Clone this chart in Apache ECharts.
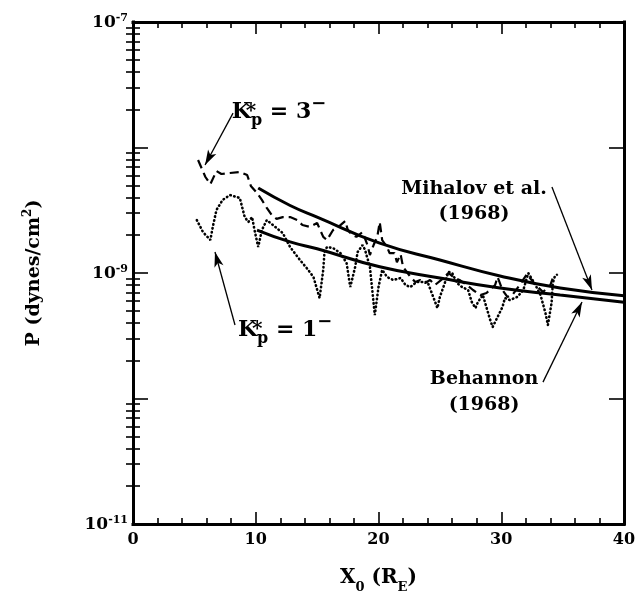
<!DOCTYPE html>
<html>
<head>
<meta charset="utf-8">
<script src="https://cdn.jsdelivr.net/npm/echarts@6/dist/echarts.min.js"></script>
<style>
  html, body { margin: 0; padding: 0; background: #fff; }
  #chart { width: 644px; height: 602px; }
</style>
</head>
<body>
<div id="chart"></div>
<script>
// Lobe pressure P versus downstream distance X0 (Earth radii)

// x-axis ticks and labelled y decades (exponents of 10)
const xTicks = [0, 10, 20, 30, 40];
const yLabelExponents = [-11, -9, -7];

// Kp* = 3- profile, [X0, P]
const kp3Minus = [
  [5.3, 7.95e-9], [5.9, 5.82e-9], [6.3, 5.1e-9], [6.8, 6.5e-9], [7.2, 6.15e-9],
  [7.9, 6.26e-9], [8.7, 6.38e-9], [9.3, 6.04e-9], [9.6, 4.94e-9], [10.1, 4.34e-9],
  [10.5, 3.82e-9], [10.9, 3.3e-9], [11.3, 2.9e-9], [11.7, 2.7e-9], [12.2, 2.79e-9],
  [12.8, 2.79e-9], [13.4, 2.64e-9], [13.8, 2.41e-9], [14.4, 2.33e-9], [15.0, 2.5e-9],
  [15.5, 1.94e-9], [15.8, 1.83e-9], [16.3, 2.2e-9], [16.9, 2.41e-9], [17.3, 2.6e-9],
  [17.5, 2.2e-9], [17.8, 2.04e-9], [18.2, 1.94e-9], [18.7, 2.12e-9], [19.1, 1.67e-9],
  [19.3, 1.39e-9], [19.6, 1.67e-9], [19.9, 1.94e-9], [20.1, 2.55e-9], [20.3, 1.83e-9],
  [20.7, 1.61e-9], [20.9, 1.44e-9], [21.3, 1.44e-9], [21.5, 1.22e-9], [21.8, 1.41e-9],
  [22.0, 1.12e-9], [22.6, 9.29e-10], [23.0, 8.47e-10], [23.4, 8.79e-10], [23.8, 8.32e-10],
  [24.2, 8.79e-10], [24.6, 8.02e-10], [25.3, 9.12e-10], [25.7, 1.0e-9], [26.2, 9.12e-10],
  [26.6, 8.79e-10], [27.2, 8.02e-10], [27.7, 7.32e-10], [28.3, 6.68e-10], [28.8, 6.93e-10],
  [29.5, 8.02e-10], [29.7, 9.29e-10], [30.1, 7.32e-10], [30.5, 6.44e-10], [30.9, 6.68e-10],
  [31.5, 8.02e-10], [32.1, 9.8e-10], [32.6, 8.47e-10], [33.4, 7.06e-10], [34.0, 8.02e-10],
  [34.2, 9.12e-10], [34.6, 9.8e-10]
];

// Kp* = 1- profile, [X0, P]
const kp1Minus = [
  [5.2, 2.64e-9], [5.7, 2.12e-9], [6.3, 1.83e-9], [6.5, 2.33e-9], [6.8, 3.18e-9],
  [7.3, 3.82e-9], [7.9, 4.18e-9], [8.7, 3.96e-9], [9.1, 2.79e-9], [9.4, 2.55e-9],
  [9.7, 2.79e-9], [9.9, 2.2e-9], [10.2, 1.61e-9], [10.5, 2.2e-9], [10.9, 2.64e-9],
  [11.4, 2.41e-9], [12.2, 2.08e-9], [12.8, 1.61e-9], [13.6, 1.27e-9], [14.2, 1.08e-9],
  [14.7, 9.29e-10], [15.2, 6.32e-10], [15.5, 1.06e-9], [15.6, 1.47e-9], [15.8, 1.61e-9],
  [16.3, 1.58e-9], [16.9, 1.44e-9], [17.4, 1.2e-9], [17.7, 7.73e-10], [18.1, 1.12e-9],
  [18.3, 1.47e-9], [18.7, 1.67e-9], [18.9, 1.53e-9], [19.3, 1.12e-9], [19.7, 4.62e-10],
  [20.0, 7.73e-10], [20.3, 1.06e-9], [20.7, 9.29e-10], [21.2, 8.79e-10], [21.8, 9.12e-10],
  [22.2, 8.02e-10], [22.6, 7.73e-10], [23.1, 8.47e-10], [24.0, 8.47e-10], [24.4, 6.68e-10],
  [24.8, 5.26e-10], [25.0, 6.44e-10], [25.4, 8.32e-10], [25.7, 1.02e-9], [26.0, 1.0e-9],
  [26.4, 8.32e-10], [26.8, 7.73e-10], [27.3, 7.32e-10], [27.6, 5.87e-10], [27.9, 5.26e-10],
  [28.1, 5.87e-10], [28.5, 6.68e-10], [29.1, 4.22e-10], [29.3, 3.71e-10], [29.7, 4.46e-10],
  [30.1, 5.36e-10], [30.3, 6.32e-10], [30.7, 6.09e-10], [31.3, 6.44e-10], [31.8, 7.32e-10],
  [32.2, 1.0e-9], [32.7, 8.32e-10], [33.2, 6.68e-10], [33.6, 4.8e-10], [33.8, 3.85e-10],
  [34.1, 5.77e-10], [34.2, 8.32e-10], [34.4, 9.64e-10]
];

// Mihalov et al. (1968) model curve, [X0, P]
const mihalov1968 = [
  [10.2, 4.75e-9], [12.8, 3.45e-9], [15.0, 2.79e-9], [20.1, 1.73e-9],
  [25.0, 1.27e-9], [29.9, 9.47e-10], [34.8, 7.59e-10], [40.0, 6.6e-10]
];

// Behannon (1968) model curve, [X0, P]
const behannon1968 = [
  [10.1, 2.2e-9], [12.8, 1.77e-9], [15.0, 1.56e-9], [20.1, 1.12e-9],
  [25.0, 9.12e-10], [29.9, 7.59e-10], [34.8, 6.68e-10], [40.0, 5.85e-10]
];

const FONT = 'DejaVu Serif';
const INK = '#000';

// log-decade minor tick positions (2..9 x 10^n)
const minorY = [];
for (let e = -11; e < -7; e++) {
  for (let m = 2; m <= 9; m++) minorY.push(m * Math.pow(10, e));
}

const arrowLine = { color: INK, width: 1.3, type: 'solid' };

function arrow(from, to) {
  return [
    { coord: from, symbol: 'none' },
    { coord: to, symbol: 'arrow', symbolSize: [7, 15] }
  ];
}

const kpRich = {
  k: { fontFamily: FONT, fontWeight: 'bold', fontSize: 22, lineHeight: 34, verticalAlign: 'middle', color: INK },
  star: { fontFamily: FONT, fontWeight: 'bold', fontSize: 20, lineHeight: 20, verticalAlign: 'middle', width: 0, color: INK },
  sub: { fontFamily: FONT, fontWeight: 'bold', fontSize: 16, lineHeight: 16, verticalAlign: 'bottom', color: INK },
  sup: { fontFamily: FONT, fontWeight: 'bold', fontSize: 18, lineHeight: 24, verticalAlign: 'top', color: INK }
};

function textMark(coord, formatter, rich, lineHeight) {
  return {
    coord: coord,
    symbol: 'rect',
    symbolSize: 1,
    itemStyle: { color: 'transparent' },
    label: {
      show: true, position: 'inside', formatter: formatter, color: INK,
      fontFamily: FONT, fontWeight: 'bold', fontSize: 19, lineHeight: lineHeight || 25,
      align: 'center', rich: rich || {}
    }
  };
}

const xAxisCommon = {
  type: 'value', min: 0, max: 40, interval: 10,
  axisLine: { show: true, onZero: false, lineStyle: { color: INK, width: 3, cap: 'square' } },
  axisTick: { show: true, inside: true, length: 12, lineStyle: { color: INK, width: 1.6 } },
  minorTick: { show: true, splitNumber: 5, length: 6, lineStyle: { color: INK, width: 1.6 } },
  splitLine: { show: false },
  minorSplitLine: { show: false }
};

const yAxisCommon = {
  type: 'log', logBase: 10, min: 1e-11, max: 1e-7,
  axisLine: { show: true, onZero: false, lineStyle: { color: INK, width: 3, cap: 'square' } },
  splitLine: { show: false }
};

const option = {
  animation: false,
  backgroundColor: '#fff',
  grid: { left: 133, right: 20, top: 22, bottom: 78, containLabel: false },
  xAxis: [
    Object.assign({}, xAxisCommon, {
      position: 'bottom',
      axisLabel: {
        show: true, margin: 8, color: INK, fontFamily: FONT, fontWeight: 'bold', fontSize: 16,
        customValues: xTicks
      },
      name: '{m|X}{s|0}{m| (R}{s|E}{m|)}',
      nameLocation: 'middle',
      nameGap: 44,
      nameTextStyle: {
        rich: {
          m: { fontFamily: FONT, fontWeight: 'bold', fontSize: 20, lineHeight: 26, verticalAlign: 'top', color: INK },
          s: { fontFamily: FONT, fontWeight: 'bold', fontSize: 13, lineHeight: 13, verticalAlign: 'bottom', color: INK }
        }
      }
    }),
    Object.assign({}, xAxisCommon, { position: 'top', axisLabel: { show: false } })
  ],
  yAxis: [
    Object.assign({}, yAxisCommon, {
      position: 'left',
      axisTick: { show: true, inside: true, length: 15, lineStyle: { color: INK, width: 1.6 } },
      axisLabel: {
        show: true, margin: 5,
        formatter: function (v) {
          const e = Math.round(Math.log10(v));
          return yLabelExponents.indexOf(e) >= 0 ? '{b|10}{s|' + e + '}' : '';
        },
        rich: {
          b: { fontFamily: FONT, fontWeight: 'bold', fontSize: 17, lineHeight: 18, verticalAlign: 'bottom', color: INK },
          s: { fontFamily: FONT, fontWeight: 'bold', fontSize: 11, lineHeight: 11, verticalAlign: 'top', padding: [0, 0, 12, 0], color: INK }
        }
      },
      name: '{m|P (dynes/cm}{s|2}{m|)}',
      nameLocation: 'middle',
      nameRotate: 90,
      nameGap: 89,
      nameTextStyle: {
        rich: {
          m: { fontFamily: FONT, fontWeight: 'bold', fontSize: 19, lineHeight: 22, verticalAlign: 'bottom', color: INK },
          s: { fontFamily: FONT, fontWeight: 'bold', fontSize: 12, lineHeight: 12, verticalAlign: 'top', padding: [0, 0, 14, 0], color: INK }
        }
      }
    }),
    Object.assign({}, yAxisCommon, {
      position: 'left',
      axisLine: { show: false },
      axisTick: { show: true, inside: true, length: 7, customValues: minorY, lineStyle: { color: INK, width: 1.6 } },
      axisLabel: { show: false }
    }),
    Object.assign({}, yAxisCommon, {
      position: 'right',
      axisTick: { show: true, inside: true, length: 15, lineStyle: { color: INK, width: 1.6 } },
      axisLabel: { show: false }
    }),
    Object.assign({}, yAxisCommon, {
      position: 'right',
      axisLine: { show: false },
      axisTick: { show: true, inside: true, length: 7, customValues: minorY, lineStyle: { color: INK, width: 1.6 } },
      axisLabel: { show: false }
    })
  ],
  series: [
    {
      name: 'Mihalov et al. (1968)',
      type: 'line', data: mihalov1968, smooth: 0.5, symbol: 'none',
      lineStyle: { color: INK, width: 3 },
      z: 3,
      markLine: {
        silent: true, symbol: ['none', 'arrow'], label: { show: false }, lineStyle: arrowLine,
        data: [arrow([34.13, 4.84e-9], [37.39, 7.33e-10])]
      },
      markPoint: {
        silent: true,
        data: [textMark([27.78, 3.68e-9], 'Mihalov et al.\n(1968)')]
      }
    },
    {
      name: 'Behannon (1968)',
      type: 'line', data: behannon1968, smooth: 0.5, symbol: 'none',
      lineStyle: { color: INK, width: 3 },
      z: 3,
      markLine: {
        silent: true, symbol: ['none', 'arrow'], label: { show: false }, lineStyle: arrowLine,
        data: [arrow([33.4, 1.35e-10], [36.58, 5.87e-10])]
      },
      markPoint: {
        silent: true,
        data: [textMark([28.6, 1.13e-10], 'Behannon\n(1968)', null, 26)]
      }
    },
    {
      name: 'Kp* = 3-',
      type: 'line', data: kp3Minus, symbol: 'none',
      lineStyle: { color: INK, width: 2.2, type: [9, 5] },
      markLine: {
        silent: true, symbol: ['none', 'arrow'], label: { show: false }, lineStyle: arrowLine,
        data: [arrow([8.15, 1.88e-8], [5.87, 7.26e-9])]
      },
      markPoint: {
        silent: true,
        data: [textMark([11.9, 1.92e-8], '{k|K}{star|*}{sub|p}{k| = 3}{sup|\u2212}', kpRich, 34)]
      }
    },
    {
      name: 'Kp* = 1-',
      type: 'line', data: kp1Minus, symbol: 'none',
      lineStyle: { color: INK, width: 2.6, type: [0.5, 3.5], cap: 'round' },
      markLine: {
        silent: true, symbol: ['none', 'arrow'], label: { show: false }, lineStyle: arrowLine,
        data: [arrow([8.31, 3.85e-10], [6.68, 1.47e-9])]
      },
      markPoint: {
        silent: true,
        data: [textMark([12.4, 3.52e-10], '{k|K}{star|*}{sub|p}{k| = 1}{sup|\u2212}', kpRich, 34)]
      }
    }
  ]
};

const chart = echarts.init(document.getElementById('chart'), null, { renderer: 'canvas' });
chart.setOption(option);
</script>
</body>
</html>
